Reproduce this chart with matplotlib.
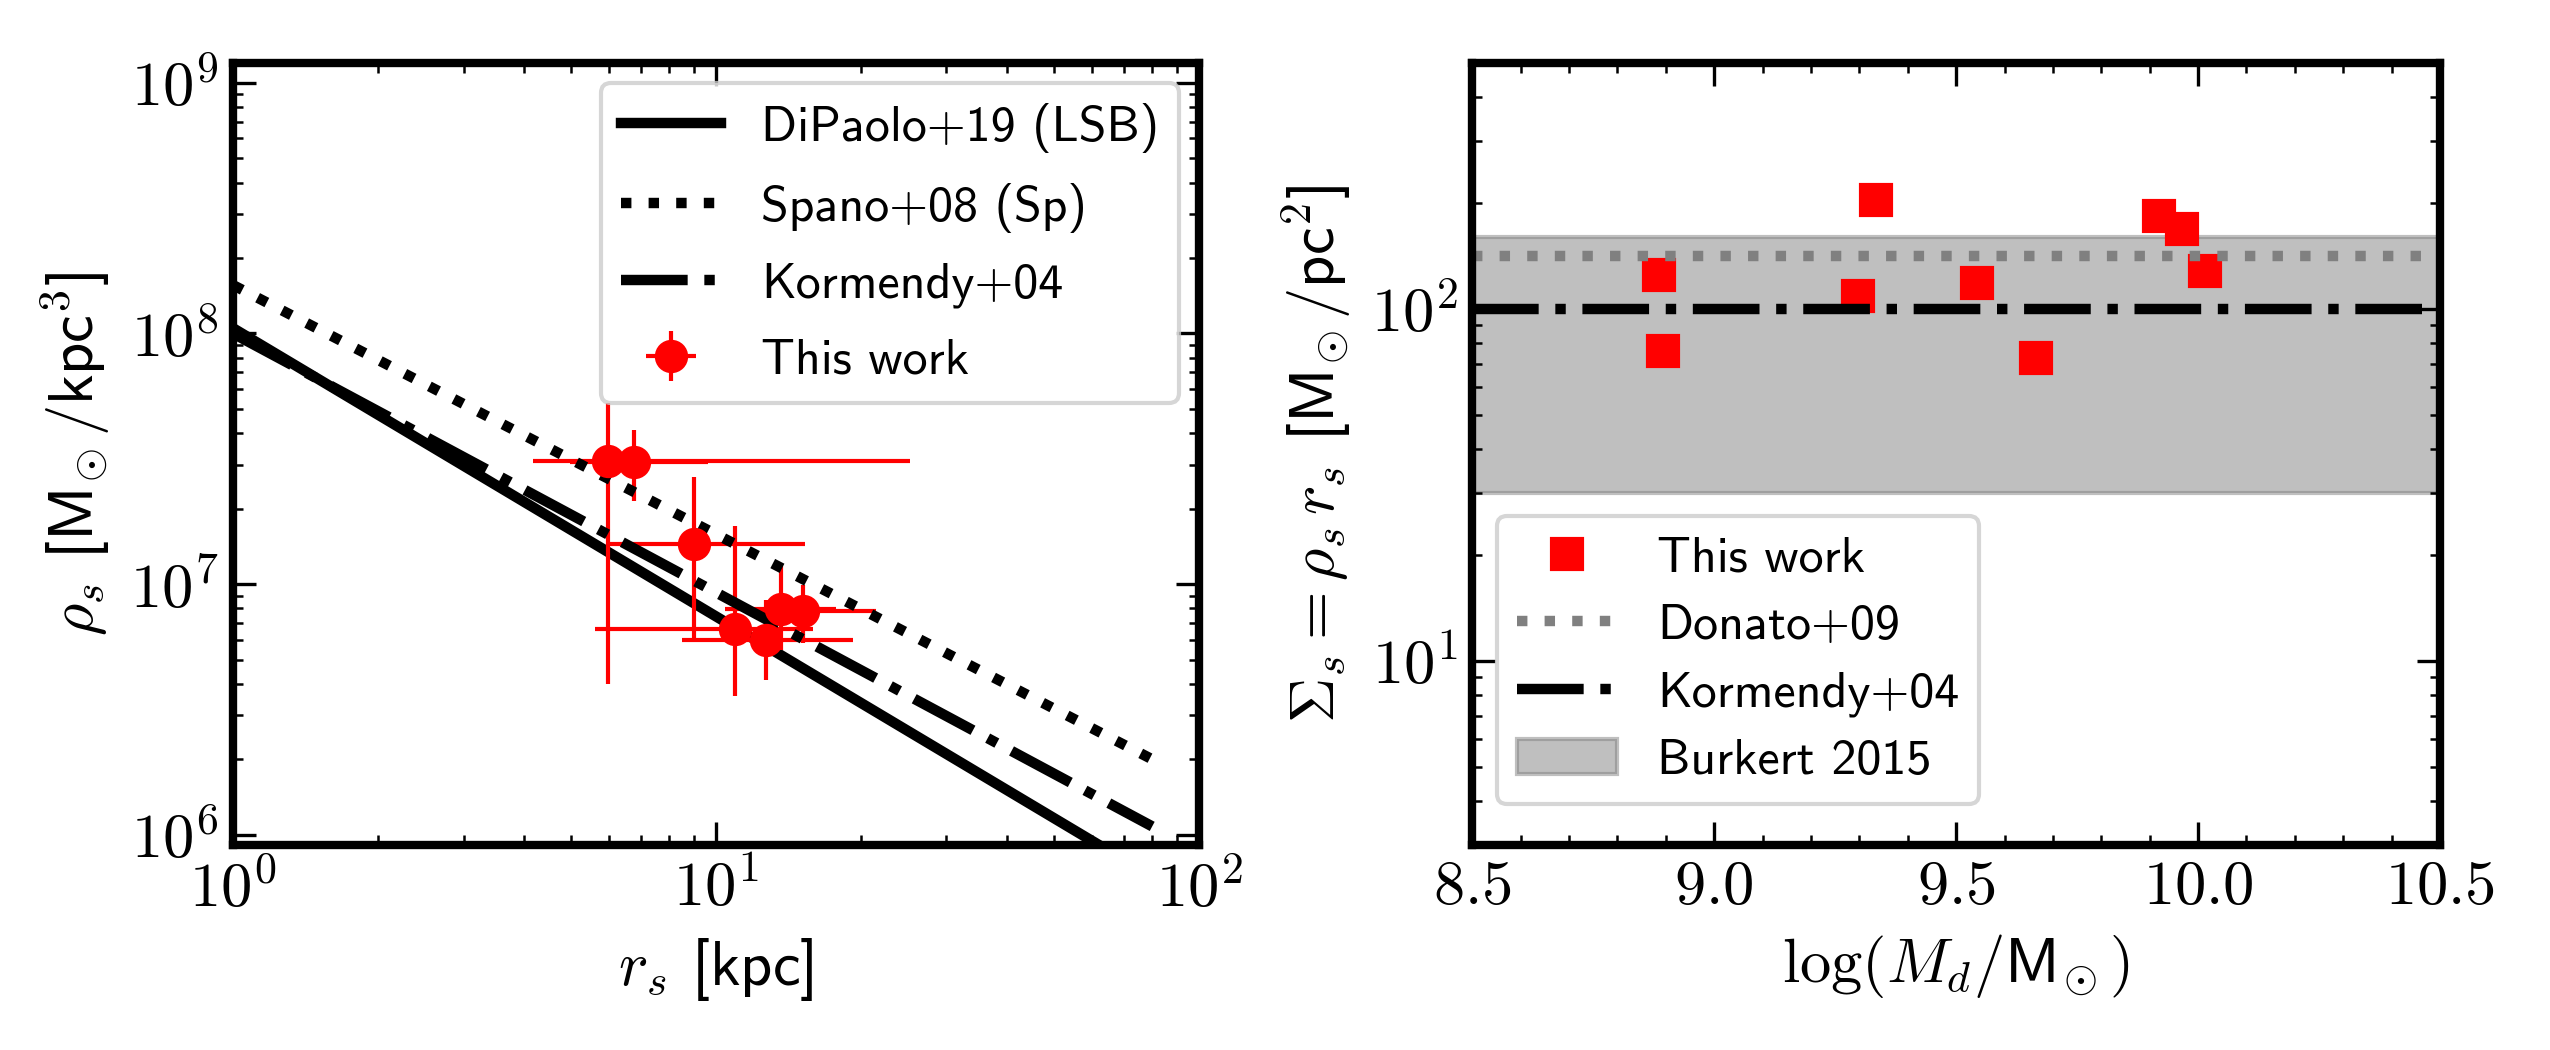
import numpy as np
import matplotlib
matplotlib.use('Agg')
import matplotlib.pyplot as plt
from matplotlib import ticker

plt.rcParams['mathtext.fontset'] = 'cm'
plt.rcParams['font.family'] = ['cmss10', 'DejaVu Sans']
plt.rcParams['axes.unicode_minus'] = False

# --- left panel: rho_s vs r_s (this work, with asymmetric errors)
rs = [5.97, 6.77, 9.02, 10.95, 12.69, 13.63, 15.16]
rs_lo = [1.80, 1.78, 3.05, 5.33, 4.20, 3.19, 3.40]
rs_hi = [19.3, 2.84, 6.27, 4.95, 6.50, 4.10, 6.26]
rho = [3.10e7, 3.06e7, 1.44e7, 6.62e6, 6.00e6, 7.96e6, 7.84e6]
rho_lo = [2.70e7, 0.92e7, 0.83e7, 3.05e6, 1.84e6, 2.49e6, 2.03e6]
rho_hi = [2.17e7, 1.07e7, 1.23e7, 1.04e7, 2.67e6, 3.84e6, 2.10e6]

# scaling relations (power laws, end points)
r_fit = [1.0, 80.0]
rho_dipaolo = [1.05e8, 6.8e5]
rho_spano = [1.56e8, 2.0e6]
rho_kormendy = [1.0e8, 1.08e6]

# --- right panel: surface density vs disc mass
logMd = [8.886, 8.894, 9.335, 9.297, 9.543, 9.666, 9.919, 9.966, 10.014]
sigma = [125, 76, 204, 108.6, 118.6, 72.6, 183.6, 168.8, 128.3]
sigma_donato = 141
sigma_kormendy = 100
burkert_band = (30, 160)

fs = 15
lfs = 12
msun = r'$\mathsf{M}_{\!\odot}$'
fig = plt.figure(figsize=(8.5, 3.5), dpi=300)
ax1 = fig.add_axes([0.0914, 0.1952, 0.3788, 0.7448])
ax2 = fig.add_axes([0.5773, 0.1952, 0.3796, 0.7448])

ax1.plot(r_fit, rho_dipaolo, 'k-', lw=2.5, label='DiPaolo+19 (LSB)')
ax1.errorbar(rs, rho, xerr=[rs_lo, rs_hi], yerr=[rho_lo, rho_hi], fmt='o',
             color='red', ms=7, elinewidth=1, label='This work')
ax1.plot(r_fit, rho_spano, 'k:', lw=2.5, label='Spano+08 (Sp)')
ax1.plot(r_fit, rho_kormendy, 'k-.', lw=2.5, label='Kormendy+04')
ax1.set_xscale('log')
ax1.set_yscale('log')
ax1.set_xlim(1, 100)
ax1.set_ylim(9.1e5, 1.2e9)
ax1.set_xlabel(r'$r_s$ [kpc]', fontsize=fs)
ax1.set_ylabel(r'$\rho_s$ [' + msun + r'/kpc$^3$]', fontsize=fs)
logfmt = ticker.FuncFormatter(lambda v, p: r'$10^{%d}$' % round(np.log10(v)))
ax1.xaxis.set_major_formatter(logfmt)
ax1.yaxis.set_major_formatter(logfmt)
ax1.legend(loc='upper right', fontsize=lfs, labelspacing=0.6,
           borderaxespad=0.4)

ax2.plot(logMd, sigma, 's', color='red', ms=7, label='This work', zorder=1.5)
ax2.axhline(sigma_donato, color='gray', ls=':', lw=2.5, label='Donato+09')
ax2.axhline(sigma_kormendy, color='k', ls='-.', lw=2.5, label='Kormendy+04')
ax2.axhspan(*burkert_band, color='gray', alpha=0.5, label='Burkert 2015', zorder=0.5)
ax2.set_yscale('log')
ax2.set_xlim(8.5, 10.5)
ax2.set_ylim(3, 500)
ax2.set_xticks([8.5, 9.0, 9.5, 10.0, 10.5])
ax2.xaxis.set_major_formatter(ticker.FuncFormatter(lambda v, p: r'$%.1f$' % v))
ax2.xaxis.set_minor_locator(ticker.MultipleLocator(0.1))
ax2.yaxis.set_major_formatter(logfmt)
ax2.set_xlabel(r'$\log(M_d/\mathsf{M}_{\!\odot})$', fontsize=fs)
ax2.set_ylabel(r'$\Sigma_s = \rho_s\,r_s$ [' + msun + r'/pc$^2$]', fontsize=fs)
ax2.legend(loc='lower left', fontsize=lfs, labelspacing=0.45,
           bbox_to_anchor=(0.0, 0.02))

for ax in (ax1, ax2):
    for s in ax.spines.values():
        s.set_linewidth(2)
    ax.tick_params(which='both', direction='in', top=True, right=True, labelsize=fs)
    ax.tick_params(which='major', length=5.5, width=0.8)
    ax.tick_params(which='minor', length=2.5, width=0.6)

fig.savefig('out.png', dpi=300)
